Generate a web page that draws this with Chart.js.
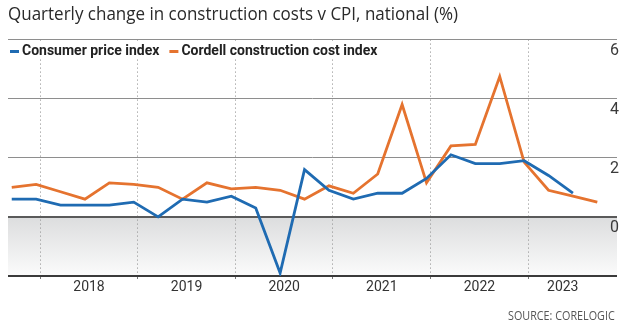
<!DOCTYPE html>
<html>
<head>
<meta charset="utf-8">
<script src="https://cdn.jsdelivr.net/npm/chart.js@4.4.1/dist/chart.umd.min.js"></script>
<style>
  html, body { margin: 0; padding: 0; background: #fff; }
  #wrap { position: relative; width: 627px; height: 329px; overflow: hidden; }
  #chart { position: absolute; left: 0; top: 0; }
  .txt { position: absolute; white-space: nowrap; transform-origin: 0 0; }
  #title { left: 8px; top: 0px; font: 400 19px 'Open Sans', sans-serif; color: #2a2a2a; }
  #source { left: 508px; top: 306px; font: 400 13px 'Open Sans', sans-serif; color: #555; }
</style>
</head>
<body>
<div id="wrap">
  <canvas id="chart" width="627" height="329"></canvas>
  <div id="title" class="txt">Quarterly change in construction costs v CPI, national (%)</div>
  <div id="source" class="txt">SOURCE: CORELOGIC</div>
</div>
<script>
// quarter ending month, Sep 2017 to Sep 2023
const quarters = [
  'Sep 2017', 'Dec 2017',
  'Mar 2018', 'Jun 2018', 'Sep 2018', 'Dec 2018',
  'Mar 2019', 'Jun 2019', 'Sep 2019', 'Dec 2019',
  'Mar 2020', 'Jun 2020', 'Sep 2020', 'Dec 2020',
  'Mar 2021', 'Jun 2021', 'Sep 2021', 'Dec 2021',
  'Mar 2022', 'Jun 2022', 'Sep 2022', 'Dec 2022',
  'Mar 2023', 'Jun 2023', 'Sep 2023'
];
const cpi = [0.6, 0.6, 0.4, 0.4, 0.4, 0.5, 0.0, 0.6, 0.5, 0.7, 0.3, -1.9, 1.6, 0.9,
             0.6, 0.8, 0.8, 1.3, 2.1, 1.8, 1.8, 1.9, 1.4, 0.8];
const cordell = [1.0, 1.1, 0.85, 0.6, 1.15, 1.1, 1.0, 0.6, 1.15, 0.95, 1.0, 0.9, 0.6, 1.05,
                 0.8, 1.45, 3.8, 1.15, 2.4, 2.45, 4.75, 1.85, 0.9, 0.7, 0.5];
const years = [2018, 2019, 2020, 2021, 2022, 2023];
const yTicks = [-2, 0, 2, 4, 6];

const seriesNames = ['Consumer price index', 'Cordell construction cost index'];
const seriesColors = ['#1f6bb2', '#e5732f'];

const MONTHS = ['Jan', 'Feb', 'Mar', 'Apr', 'May', 'Jun', 'Jul', 'Aug', 'Sep', 'Oct', 'Nov', 'Dec'];

// place each quarter in the middle of its last month, as a decimal year
function quarterX(label) {
  const [mon, yr] = label.split(' ');
  return Number(yr) + (MONTHS.indexOf(mon) + 0.5) / 12;
}

function toPoints(values) {
  return values.map((v, i) => ({ x: quarterX(quarters[i]), y: v }));
}

const lastX = quarterX(quarters[quarters.length - 1]);
const lastYear = years[years.length - 1];

// year dividers on whole years, year names centred between them
// (the final, partial year is centred on the part that has data)
const xTicks = [];
years.forEach(y => {
  xTicks.push(y);
  xTicks.push(y === lastYear ? (y + lastX) / 2 : y + 0.5);
});

// grey wash under the zero line
const belowZero = {
  id: 'belowZero',
  beforeDraw(chart) {
    const { ctx, chartArea, scales: { y } } = chart;
    const top = y.getPixelForValue(0);
    const bottom = y.getPixelForValue(y.min);
    const g = ctx.createLinearGradient(0, top, 0, bottom);
    g.addColorStop(0, '#dcddde');
    g.addColorStop(1, '#fbfbfb');
    ctx.save();
    ctx.fillStyle = g;
    ctx.fillRect(chartArea.left, top, chartArea.right - chartArea.left, bottom - top);
    ctx.restore();
  }
};

// legend sits inside the plot on a white strip
const inlineLegend = {
  id: 'inlineLegend',
  afterDraw(chart) {
    const { ctx, chartArea } = chart;
    const y = chartArea.top + 12;
    ctx.save();
    ctx.font = 'bold 14px Roboto, sans-serif';
    ctx.textBaseline = 'middle';
    const items = chart.data.datasets;
    let total = 0;
    items.forEach(ds => { total += 12 + ctx.measureText(ds.label).width + 10; });
    ctx.fillStyle = '#fff';
    ctx.fillRect(chartArea.left, chartArea.top + 3, total + 4, 16);
    let x = chartArea.left + 2;
    items.forEach(ds => {
      ctx.fillStyle = ds.borderColor;
      ctx.fillRect(x, y - 1.5, 9, 3);
      x += 12;
      ctx.fillStyle = '#222';
      ctx.fillText(ds.label, x, y);
      x += ctx.measureText(ds.label).width + 10;
    });
    ctx.restore();
  }
};

const yGridColor = v => v === -2 ? '#3a3a3a' : v === 0 ? '#5a5a5a' : '#8e8e8e';

new Chart(document.getElementById('chart'), {
  type: 'line',
  data: {
    datasets: [
      { label: seriesNames[0], data: toPoints(cpi), borderColor: seriesColors[0] },
      { label: seriesNames[1], data: toPoints(cordell), borderColor: seriesColors[1] }
    ]
  },
  options: {
    responsive: false,
    animation: false,
    events: [],
    layout: { padding: { left: 8, right: 10, top: 39.5, bottom: 0 } },
    elements: {
      line: { borderWidth: 2.8, tension: 0, fill: false },
      point: { radius: 0 }
    },
    plugins: { legend: { display: false }, tooltip: { enabled: false } },
    scales: {
      x: {
        type: 'linear',
        min: 2017.67,
        max: 2023.91,
        afterBuildTicks: s => { s.ticks = xTicks.map(v => ({ value: v })); },
        afterFit: s => { s.height = 53; },
        grid: {
          color: c => Number.isInteger(c.tick && c.tick.value) ? '#9a9a9a' : 'transparent',
          tickColor: c => Number.isInteger(c.tick && c.tick.value) ? '#777' : 'transparent',
          lineWidth: 1,
          drawTicks: true,
          tickLength: 3
        },
        border: { display: false, dash: [1.2, 2.8] },
        ticks: {
          autoSkip: false,
          maxRotation: 0,
          padding: 0,
          color: '#333',
          font: { family: 'Roboto', size: 14 },
          callback: v => Number.isInteger(v) ? '' : String(Math.floor(v))
        }
      },
      y: {
        position: 'right',
        min: -2,
        max: 6,
        afterBuildTicks: s => { s.ticks = yTicks.map(v => ({ value: v })); },
        afterFit: s => { s.width = 0; },
        grid: {
          color: c => yGridColor(c.tick && c.tick.value),
          lineWidth: c => (c.tick && c.tick.value <= 0) ? 2 : 1,
          drawTicks: false
        },
        border: { display: false },
        ticks: {
          mirror: true,
          padding: 2,
          labelOffset: 11,
          color: '#3a3a3a',
          font: { family: 'Roboto', size: 16 },
          callback: v => v < 0 ? '' : String(v)
        }
      }
    }
  },
  plugins: [belowZero, inlineLegend]
});

// squeeze the header and source lines to the narrow face used in print
function fitWidth(id, w) {
  const el = document.getElementById(id);
  el.style.transform = 'scaleX(' + (w / el.scrollWidth) + ')';
}
fitWidth('title', 450);
fitWidth('source', 107);
</script>
</body>
</html>
